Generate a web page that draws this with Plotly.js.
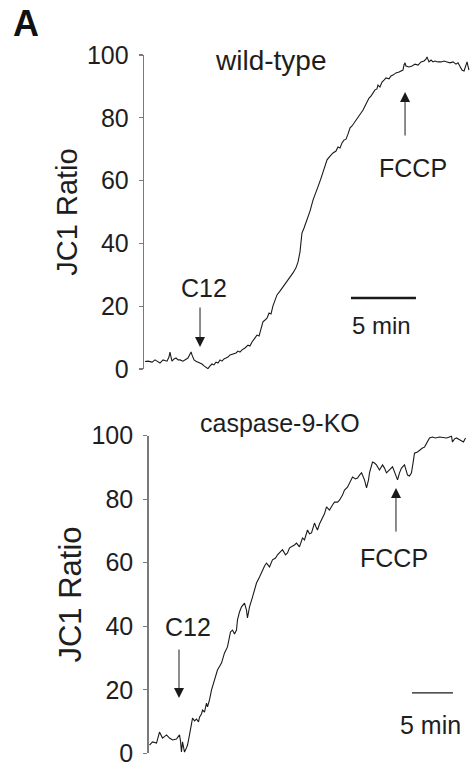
<!DOCTYPE html>
<html>
<head>
<meta charset="utf-8">
<script src="https://cdn.plot.ly/plotly-3.0.1.min.js"></script>
<style>
  html, body { margin: 0; padding: 0; background: #fff; }
  #chart { width: 473px; height: 769px; }
</style>
</head>
<body>
<div id="chart"></div>
<script>
// ---- Data (time in minutes, JC1 ratio) ----
const wtTime = [0.08,0.31,0.62,0.85,1.0,1.23,1.46,1.77,1.92,2.0,2.08,2.15,2.31,2.46,2.62,2.77,3.0,3.23,3.38,3.54,3.62,3.69,3.85,4.0,4.15,4.31,4.46,4.62,4.77,4.92,5.08,5.23,5.38,5.54,5.69,5.85,6.0,6.15,6.31,6.46,6.62,6.85,7.08,7.23,7.38,7.54,7.77,8.0,8.15,8.31,8.54,8.69,8.85,9.0,9.15,9.31,9.46,9.62,9.77,9.92,10.08,10.23,10.46,10.69,11.0,11.23,11.46,11.69,11.85,12.0,12.08,12.15,12.31,12.54,12.77,13.0,13.23,13.38,13.62,13.85,14.08,14.31,14.54,14.77,14.92,15.08,15.23,15.38,15.54,15.69,15.85,16.0,16.15,16.38,16.62,16.85,17.08,17.31,17.46,17.62,17.77,17.92,18.0,18.15,18.31,18.46,18.62,18.85,19.0,19.15,19.38,19.62,19.85,19.92,20.0,20.08,20.15,20.38,20.62,20.85,21.08,21.31,21.54,21.69,21.77,21.92,22.08,22.23,22.38,22.62,22.85,23.08,23.31,23.54,23.77,24.0,24.15,24.31,24.46,24.62,24.77,24.85,24.92,25.0];
const wtRatio = [2.4,2.5,2.2,2.9,2.5,1.9,2.9,2.5,3.8,5.4,3.8,2.5,3.2,3.5,2.9,2.9,2.5,3.2,3.5,4.8,5.4,4.5,2.9,2.5,2.2,1.9,1.6,1.0,0.6,0.1,1.0,1.6,1.3,2.2,1.9,2.9,2.5,3.2,3.5,3.8,4.5,4.8,5.1,5.7,5.4,6.1,6.7,7.6,7.3,8.6,10.2,10.8,10.5,12.4,15.0,15.6,16.2,17.8,17.5,20.1,22.0,23.6,24.8,26.1,27.7,29.0,30.6,32.2,34.1,37.3,41.1,43.3,44.9,47.5,50.3,53.8,56.1,58.0,60.8,64.0,66.6,67.8,68.8,69.4,70.7,70.4,72.0,72.9,73.2,74.8,76.8,77.4,78.3,79.9,81.5,82.5,84.4,86.3,86.9,88.2,88.9,89.2,90.4,89.8,91.4,92.0,92.7,92.4,93.3,93.6,94.3,94.6,94.9,95.2,96.8,97.5,96.5,96.2,96.5,97.1,96.8,97.8,98.1,98.7,99.4,97.8,98.4,97.8,98.1,97.8,97.8,98.1,97.8,97.5,97.8,97.1,97.5,96.5,95.2,94.9,97.1,97.8,96.5,95.2];

const koTime = [0.12,0.49,0.98,1.34,1.71,1.95,2.2,2.56,2.93,3.41,3.78,3.9,4.02,4.15,4.39,4.63,4.76,5.0,5.24,5.37,5.61,5.85,6.1,6.22,6.46,6.59,6.83,7.07,7.2,7.44,7.68,8.05,8.41,8.9,9.27,9.63,10.0,10.24,10.49,10.73,10.85,11.1,11.34,11.71,11.95,12.07,12.32,12.68,13.17,13.54,13.9,14.15,14.39,14.76,15.12,15.49,15.73,16.1,16.34,16.71,16.95,17.2,17.44,17.8,18.05,18.41,18.78,19.02,19.39,19.63,19.88,20.24,20.49,20.61,20.85,21.1,21.46,21.71,22.07,22.44,22.68,23.05,23.29,23.66,23.9,24.27,24.51,24.88,25.24,25.49,25.73,25.98,26.34,26.59,26.83,26.95,27.32,27.56,27.8,28.17,28.54,28.78,29.02,29.39,29.76,30.0,30.37,30.61,30.85,31.22,31.59,31.83,32.07,32.32,32.44,32.8,33.05,33.41,33.66,33.9,34.27,34.63,35.0,35.49,36.0,36.34,36.71,36.95,37.07,37.32,37.56,37.93,38.17,38.41,38.66];
const koRatio = [2.6,3.6,3.2,6.7,4.8,5.4,5.8,4.8,4.2,4.5,5.8,3.9,0.4,3.6,0.4,1.7,2.6,5.8,8.6,11.1,10.2,10.8,9.9,11.4,12.4,13.6,13.0,15.8,14.6,16.8,19.9,23.1,26.2,28.4,31.6,33.5,38.2,38.8,37.6,38.8,42.0,44.5,46.1,47.3,45.1,42.6,46.1,49.2,53.6,55.5,57.7,59.0,59.9,58.7,60.9,61.5,62.5,63.4,64.1,62.5,63.1,64.7,65.0,65.6,66.2,65.0,67.8,67.2,70.3,69.1,69.4,72.5,70.9,70.3,72.2,73.5,75.4,77.6,76.6,78.2,79.1,79.1,79.7,81.3,82.9,83.8,85.1,87.0,86.4,86.7,87.6,88.3,86.1,83.6,86.1,88.3,91.7,91.4,90.8,89.2,90.8,89.8,88.3,89.2,90.2,88.6,86.1,88.3,89.8,90.8,87.6,87.3,88.3,92.4,94.5,94.9,95.5,96.1,96.4,97.7,99.3,99.6,99.3,99.6,99.3,99.3,99.6,100.0,98.0,99.0,99.3,98.7,98.3,98.0,99.3];

const yTicks = [0, 20, 40, 60, 80, 100];
const yTickText = ['0', '20', '40', '60', '80', '100'];
const panelLabels = ['wild-type', 'caspase-9-KO'];
const yTitle = 'JC1 Ratio';

// ---- Layout helpers ----
const W = 473, H = 769;
const fy = px => 1 - px / H;
const fx = px => px / W;
const FONT = 'Liberation Sans, Arial, Helvetica, sans-serif';
const TXT = '#1e1e1e';

const traceStyle = {mode: 'lines', line: {color: '#1a1a1a', width: 1.1}, hoverinfo: 'skip', showlegend: false};
const data = [
  Object.assign({x: wtTime, y: wtRatio, xaxis: 'x', yaxis: 'y'}, traceStyle),
  Object.assign({x: koTime, y: koRatio, xaxis: 'x2', yaxis: 'y2'}, traceStyle)
];

const yAxisBase = {
  range: [0, 100], tickvals: yTicks, ticktext: yTickText,
  showgrid: false, zeroline: false, showline: true,
  linecolor: '#7a7a7a', linewidth: 1.3,
  ticks: 'outside', ticklen: 4, tickcolor: '#7a7a7a', tickwidth: 1.3,
  tickfont: {family: FONT, size: 25, color: TXT},
  ticklabelstandoff: 5,
  fixedrange: true
};
const xAxisBase = {visible: false, showgrid: false, zeroline: false, fixedrange: true};

function txt(x, y, text, size, xref, yref, extra) {
  return Object.assign({x: x, y: y, xref: xref, yref: yref, text: text, showarrow: false,
    font: {family: FONT, size: size, color: TXT}, xanchor: 'center', yanchor: 'middle'}, extra || {});
}
function arrow(x, y, ay, xref, yref) {
  return {x: x, y: y, xref: xref, yref: yref, text: '', showarrow: true, ax: 0, ay: ay,
    arrowhead: 2, arrowsize: 2, arrowwidth: 1, arrowcolor: '#1a1a1a', standoff: 0, startstandoff: 0};
}

const layout = {
  width: W, height: H,
  margin: {l: 0, r: 0, t: 0, b: 0},
  paper_bgcolor: '#ffffff', plot_bgcolor: '#ffffff',
  showlegend: false,
  xaxis: Object.assign({domain: [fx(144), 1], range: [0, (W - 144) / 13], anchor: 'y'}, xAxisBase),
  yaxis: Object.assign({domain: [fy(369), fy(55)], anchor: 'x',
    title: {text: yTitle, font: {family: FONT, size: 29, color: TXT}, standoff: 0}}, yAxisBase),
  xaxis2: Object.assign({domain: [fx(148.5), 1], range: [0, (W - 148.5) / 8.2], anchor: 'y2'}, xAxisBase),
  yaxis2: Object.assign({domain: [fy(753.3), fy(435.7)], anchor: 'x2',
    title: {text: yTitle, font: {family: FONT, size: 31, color: TXT}, standoff: 0}}, yAxisBase),
  shapes: [
    {type: 'line', xref: 'x', yref: 'y', x0: 15.92, x1: 20.92, y0: 22.6, y1: 22.6, line: {color: '#1a1a1a', width: 2.5}},
    {type: 'line', xref: 'x2', yref: 'y2', x0: 32.13, x1: 37.13, y0: 19.0, y1: 19.0, line: {color: '#1a1a1a', width: 1.2}}
  ],
  annotations: [
    txt(fx(26), fy(23), '<b>A</b>', 36, 'paper', 'paper', {font: {family: FONT, size: 36, color: '#111'}}),
    txt(fx(270), fy(61), panelLabels[0], 28, 'paper', 'paper'),
    txt(fx(280), fy(423), panelLabels[1], 25, 'paper', 'paper'),
    // top panel
    txt(4.62, 25.8, 'C12', 25, 'x', 'y'),
    arrow(4.31, 7.0, -41, 'x', 'y'),
    txt(20.69, 64.0, 'FCCP', 25, 'x', 'y'),
    arrow(20.08, 88.2, 45, 'x', 'y'),
    txt(18.3, 14.0, '5 min', 24, 'x', 'y'),
    // bottom panel
    txt(4.78, 39.8, 'C12', 25, 'x2', 'y2'),
    arrow(3.72, 17.4, -50, 'x2', 'y2'),
    txt(29.94, 61.5, 'FCCP', 25, 'x2', 'y2'),
    arrow(30.18, 83.5, 45, 'x2', 'y2'),
    txt(34.33, 8.9, '5 min', 25, 'x2', 'y2')
  ]
};

Plotly.newPlot('chart', data, layout, {staticPlot: true, displayModeBar: false});
</script>
</body>
</html>
